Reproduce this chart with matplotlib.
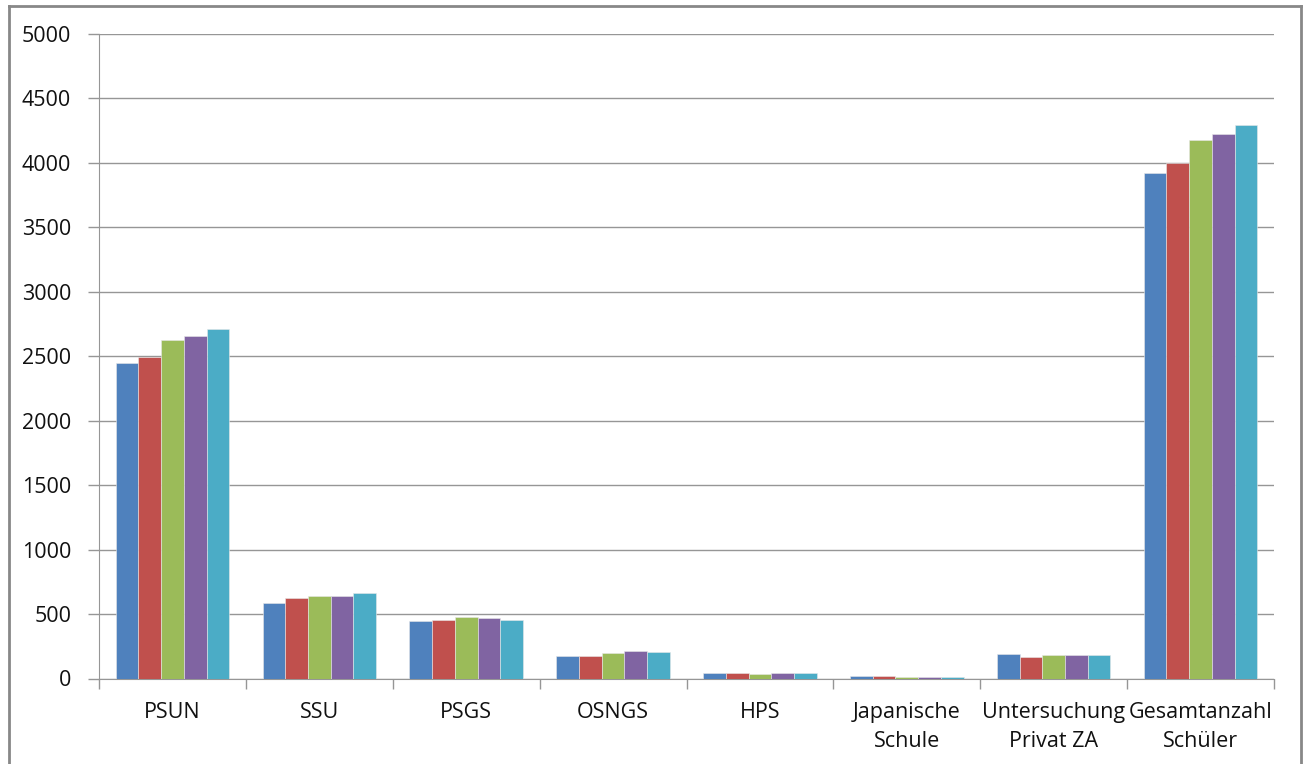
import matplotlib.pyplot as plt
import numpy as np
from matplotlib.lines import Line2D

# Categories and values
categories = ['PSUN', 'SSU', 'PSGS', 'OSNGS', 'HPS', 'Japanische\nSchule',
              'Untersuchung\nPrivat ZA', 'Gesamtanzahl\nSchüler']
series_1 = [2448, 584, 449, 176, 46, 18, 191, 3923]
series_2 = [2495, 623, 457, 176, 46, 18, 166, 3998]
series_3 = [2628, 640, 477, 194, 38, 10, 184, 4176]
series_4 = [2657, 640, 467, 212, 46, 10, 184, 4222]
series_5 = [2711, 666, 457, 204, 46, 10, 184, 4297]
y_ticks = [0, 500, 1000, 1500, 2000, 2500, 3000, 3500, 4000, 4500, 5000]

series = [series_1, series_2, series_3, series_4, series_5]
colors = ['#4F81BD', '#C0504D', '#9BBB59', '#8064A2', '#4BACC6']

plt.rcParams['font.family'] = ['Open Sans', 'DejaVu Sans']

fig = plt.figure(figsize=(13.06, 7.64), dpi=100)
ax = fig.add_axes([99 / 1306, 1 - 678.5 / 764, (1274 - 99) / 1306, (678.5 - 34) / 764])

x = np.arange(len(categories))
width = 0.1547
for i, (vals, col) in enumerate(zip(series, colors)):
    ax.bar(x + (i - 2) * width, vals, width, color=col, edgecolor='#e8e8e8',
           linewidth=0.4, zorder=3)

ax.set_xlim(-0.5, len(categories) - 0.5)
ax.set_ylim(0, 5000)
ax.set_yticks(y_ticks)
ax.yaxis.grid(True, color='#969696', linewidth=1.0, zorder=0)

# category ticks sit between groups
ax.set_xticks(np.arange(-0.5, len(categories)), minor=False)
ax.set_xticklabels([])
ax.set_xticks(x, minor=True)
ax.set_xticklabels(categories, minor=True, fontsize=15.5, color='#111111',
                   linespacing=1.5)
ax.tick_params(axis='x', which='major', length=7, width=1, color='#969696')
ax.tick_params(axis='x', which='minor', length=0, pad=17)
ax.tick_params(axis='y', length=8, width=1, color='#969696', labelsize=15.5,
               labelcolor='#111111', pad=12)

for side in ['top', 'right']:
    ax.spines[side].set_visible(False)
ax.spines['left'].set_color('#969696')
ax.spines['bottom'].set_color('#969696')

# outer chart frame (bottom edge cut off in the original)
frame_col = '#888888'
fig.add_artist(Line2D([9 / 1306, 9 / 1306], [0, 1 - 6 / 764], color=frame_col, lw=2))
fig.add_artist(Line2D([9 / 1306, 1301 / 1306], [1 - 6 / 764, 1 - 6 / 764], color=frame_col, lw=2))
fig.add_artist(Line2D([1301 / 1306, 1301 / 1306], [0, 1 - 6 / 764], color=frame_col, lw=2))

plt.savefig('out.png', dpi=100)
